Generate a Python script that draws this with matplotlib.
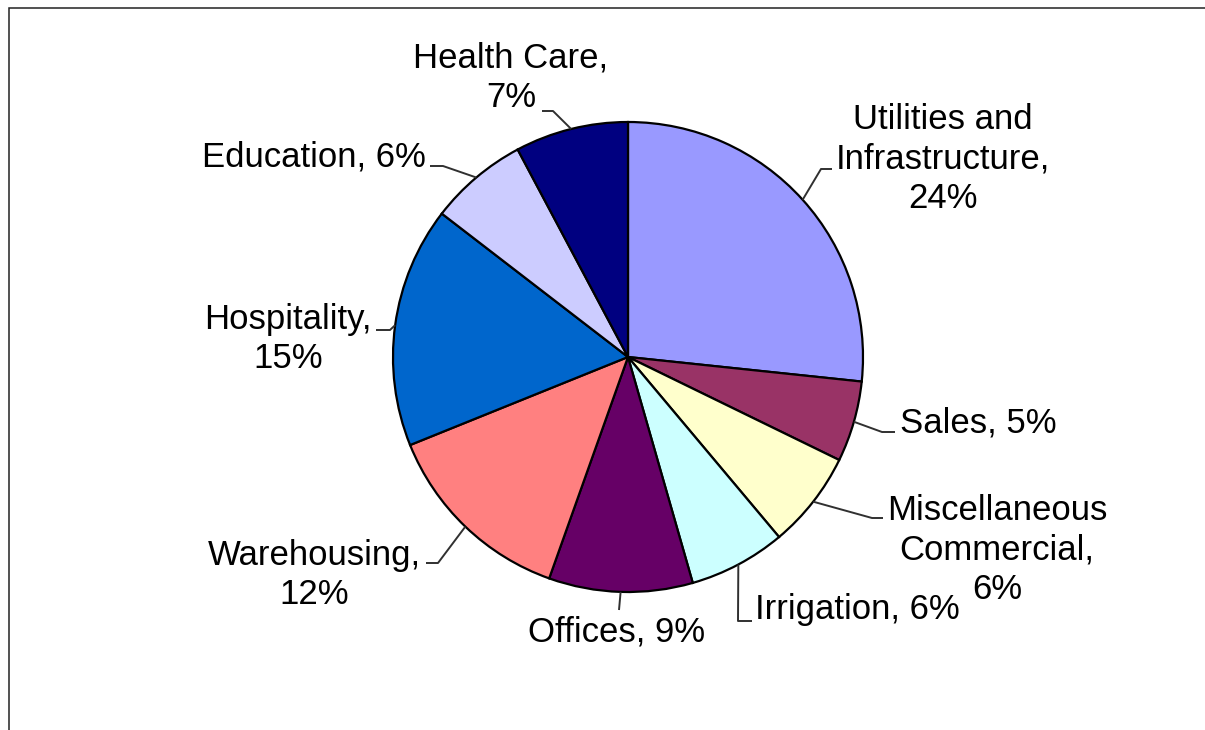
import numpy as np
import matplotlib
matplotlib.use('Agg')
import matplotlib.pyplot as plt

# slice values (share of all projects, %), clockwise from 12 o'clock
sectors = ['Utilities and Infrastructure', 'Sales', 'Miscellaneous Commercial',
           'Irrigation', 'Offices', 'Warehousing', 'Hospitality',
           'Education', 'Health Care']
values = [24.0, 5.0, 6.0, 6.0, 8.9, 12.1, 14.9, 6.1, 7.0]
pct_labels = ['24%', '5%', '6%', '6%', '9%', '12%', '15%', '6%', '7%']
colors = ['#9999FF', '#993366', '#FFFFCC', '#CCFFFF', '#660066',
          '#FF8080', '#0066CC', '#CCCCFF', '#000080']

# label text layout (line breaks as in the original chart)
label_fmt = ['Utilities and\nInfrastructure,\n{}', 'Sales, {}',
             'Miscellaneous\nCommercial,\n{}', 'Irrigation, {}', 'Offices, {}',
             'Warehousing,\n{}', 'Hospitality,\n{}', 'Education, {}',
             'Health Care,\n{}']

W, H = 1205, 730
CX, CY, R = 628, 357, 235   # pixel coords, y from top

# label centre positions and leader elbow/end points (pixels, y from top)
text_pos = [(943, 159), (978, 423), (997, 550), (857, 609), (617, 632),
            (314, 575), (288, 339), (314, 157), (511, 78)]
leader = [[(821, 169), (832, 169)],
          [(882, 432), (895, 432)],
          [(872, 518), (883, 518)],
          [(738, 621), (752, 621)],
          [(619, 610)],
          [(438, 563), (426, 563)],
          [(390, 330), (376, 330)],
          [(443, 166), (430, 166)],
          [(553, 111), (542, 111)]]


def up(y):
    '''convert pixel y (from top) to plot y'''
    return H - y


def main():
    plt.rcParams['font.family'] = ['Liberation Sans', 'DejaVu Sans']
    fig = plt.figure(figsize=(W / 100, H / 100), dpi=100)
    ax = fig.add_axes([0, 0, 1, 1])

    wedges, _ = ax.pie(values, colors=colors, startangle=90, counterclock=False,
                       center=(CX, up(CY)), radius=R,
                       wedgeprops=dict(edgecolor='black', linewidth=1.6))
    ax.set_xlim(0, W)
    ax.set_ylim(0, H)
    ax.set_aspect('equal')
    ax.axis('off')

    for w, fmt, pct, (tx, ty), pts in zip(wedges, label_fmt, pct_labels,
                                          text_pos, leader):
        mid = np.deg2rad((w.theta1 + w.theta2) / 2)
        x0 = CX + R * np.cos(mid)
        y0 = up(CY) + R * np.sin(mid)
        xs = [x0] + [p[0] for p in pts]
        ys = [y0] + [up(p[1]) for p in pts]
        ax.plot(xs, ys, color='#303030', lw=1.4, solid_capstyle='butt')
        ax.text(tx, up(ty), fmt.format(pct), ha='center', va='center',
                multialignment='center', fontsize=25, linespacing=1.26,
                color='black')

    # chart area border (cropped on right and bottom)
    ax.plot([9, 9, W], [0, up(8), up(8)], color='#222222', lw=1.1,
            solid_joinstyle='miter')

    fig.savefig('out.png', dpi=100, facecolor='white')


if __name__ == '__main__':
    main()
